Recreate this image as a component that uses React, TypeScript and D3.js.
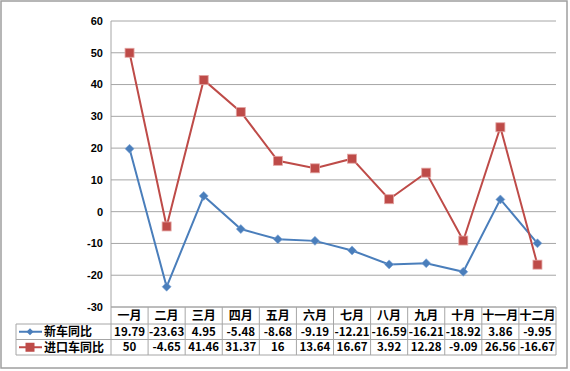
import * as d3 from 'd3';

const months = ['一月', '二月', '三月', '四月', '五月', '六月', '七月', '八月', '九月', '十月', '十一月', '十二月'];
const newCar = [19.79, -23.63, 4.95, -5.48, -8.68, -9.19, -12.21, -16.59, -16.21, -18.92, 3.86, -9.95];
const importCar = [50, -4.65, 41.46, 31.37, 16, 13.64, 16.67, 3.92, 12.28, -9.09, 26.56, -16.67];
const yTicks = [60, 50, 40, 30, 20, 10, 0, -10, -20, -30];

const series = [
  { name: '新车同比', values: newCar, color: '#4A7EBB', marker: 'diamond' },
  { name: '进口车同比', values: importCar, color: '#BE4B48', marker: 'square' },
];

const W = 570;
const H = 371;
const plot = { left: 111, right: 556, top: 21, bottom: 307 };
const rows = [307, 324, 339.5, 355];
const tableLeft = 16;

export default function App() {
  const x = d3.scaleBand<string>().domain(months).range([plot.left, plot.right]);
  const y = d3.scaleLinear().domain([-30, 60]).range([plot.bottom, plot.top]);
  const line = d3.line<number>()
    .x((_, i) => (x(months[i]) ?? 0) + x.bandwidth() / 2)
    .y((d) => y(d));
  const cjk = '"Noto Sans CJK SC", "DejaVu Sans", sans-serif';

  return (
    <svg width={W} height={H} style={{ display: 'block' }}>
      <style>{`body{margin:0}`}</style>
      <rect x={0} y={0} width={W} height={H} fill="#fff" />
      <rect x={1} y={1} width={566} height={367} fill="none" stroke="#9f9f9f" strokeWidth={1.5} />
      <defs>
        {months.map((m, i) => (
          <clipPath id={`cell-${i}`} key={m}>
            <rect x={x(m)} y={rows[0]} width={x.bandwidth()} height={rows[3] - rows[0]} />
          </clipPath>
        ))}
      </defs>

      {/* gridlines + y labels */}
      {yTicks.map((t) => (
        <g key={t}>
          <line x1={plot.left} x2={plot.right} y1={y(t)} y2={y(t)} stroke="#a6a6a6" strokeWidth={1} />
          <text x={103} y={y(t)} dy="0.35em" textAnchor="end" fontFamily="Arial, 'Liberation Sans', sans-serif"
            fontWeight="bold" fontSize={11} fill="#000">{t}</text>
        </g>
      ))}
      <line x1={plot.left} x2={plot.left} y1={plot.top} y2={plot.bottom} stroke="#a6a6a6" />

      {/* series */}
      {series.map((s) => (
        <g key={s.name}>
          <path d={line(s.values) ?? ''} fill="none" stroke={s.color} strokeWidth={2} />
          {s.values.map((v, i) => {
            const cx = (x(months[i]) ?? 0) + x.bandwidth() / 2;
            const cy = y(v);
            return s.marker === 'diamond'
              ? <path key={i} d={`M${cx},${cy - 4.5}L${cx + 4.5},${cy}L${cx},${cy + 4.5}L${cx - 4.5},${cy}Z`} fill={s.color} stroke="#7fa6d6" strokeWidth={0.6} />
              : <rect key={i} x={cx - 4.5} y={cy - 4.5} width={9} height={9} fill={s.color} stroke="#e3a5a3" strokeWidth={0.8} />;
          })}
        </g>
      ))}

      {/* data table */}
      <g stroke="#a6a6a6" strokeWidth={1} fill="none">
        <line x1={plot.left} x2={plot.right} y1={rows[0]} y2={rows[0]} />
        <line x1={tableLeft} x2={plot.right} y1={rows[1]} y2={rows[1]} />
        <line x1={tableLeft} x2={plot.right} y1={rows[2]} y2={rows[2]} />
        <line x1={tableLeft} x2={plot.right} y1={rows[3]} y2={rows[3]} />
        <line x1={tableLeft} x2={tableLeft} y1={rows[1]} y2={rows[3]} />
        {months.map((m) => (
          <line key={m} x1={x(m)} x2={x(m)} y1={rows[0]} y2={rows[3]} />
        ))}
        <line x1={plot.right} x2={plot.right} y1={rows[0]} y2={rows[3]} />
      </g>
      {months.map((m, i) => (
        <g key={m} clipPath={`url(#cell-${i})`}>
          <text x={(x(m) ?? 0) + x.bandwidth() / 2} y={(rows[0] + rows[1]) / 2} dy="0.36em" textAnchor="middle"
            fontFamily={cjk} fontWeight="bold" fontSize={12}>{m}</text>
          {series.map((s, j) => (
            <text key={s.name} x={(x(m) ?? 0) + x.bandwidth() / 2} y={(rows[j + 1] + rows[j + 2]) / 2} dy="0.36em"
              textAnchor="middle" fontFamily={cjk} fontWeight="bold" fontSize={11.5}>{String(s.values[i])}</text>
          ))}
        </g>
      ))}
      {series.map((s, j) => {
        const cy = (rows[j + 1] + rows[j + 2]) / 2;
        const cx = 30;
        return (
          <g key={s.name}>
            <line x1={19} x2={42} y1={cy} y2={cy} stroke={s.color} strokeWidth={2} />
            {s.marker === 'diamond'
              ? <path d={`M${cx},${cy - 3.5}L${cx + 3.5},${cy}L${cx},${cy + 3.5}L${cx - 3.5},${cy}Z`} fill={s.color} />
              : <rect x={cx - 4.5} y={cy - 4.5} width={9} height={9} fill={s.color} />}
            <text x={44} y={cy} dy="0.36em" fontFamily={cjk} fontWeight="bold" fontSize={12}>{s.name}</text>
          </g>
        );
      })}
    </svg>
  );
}
